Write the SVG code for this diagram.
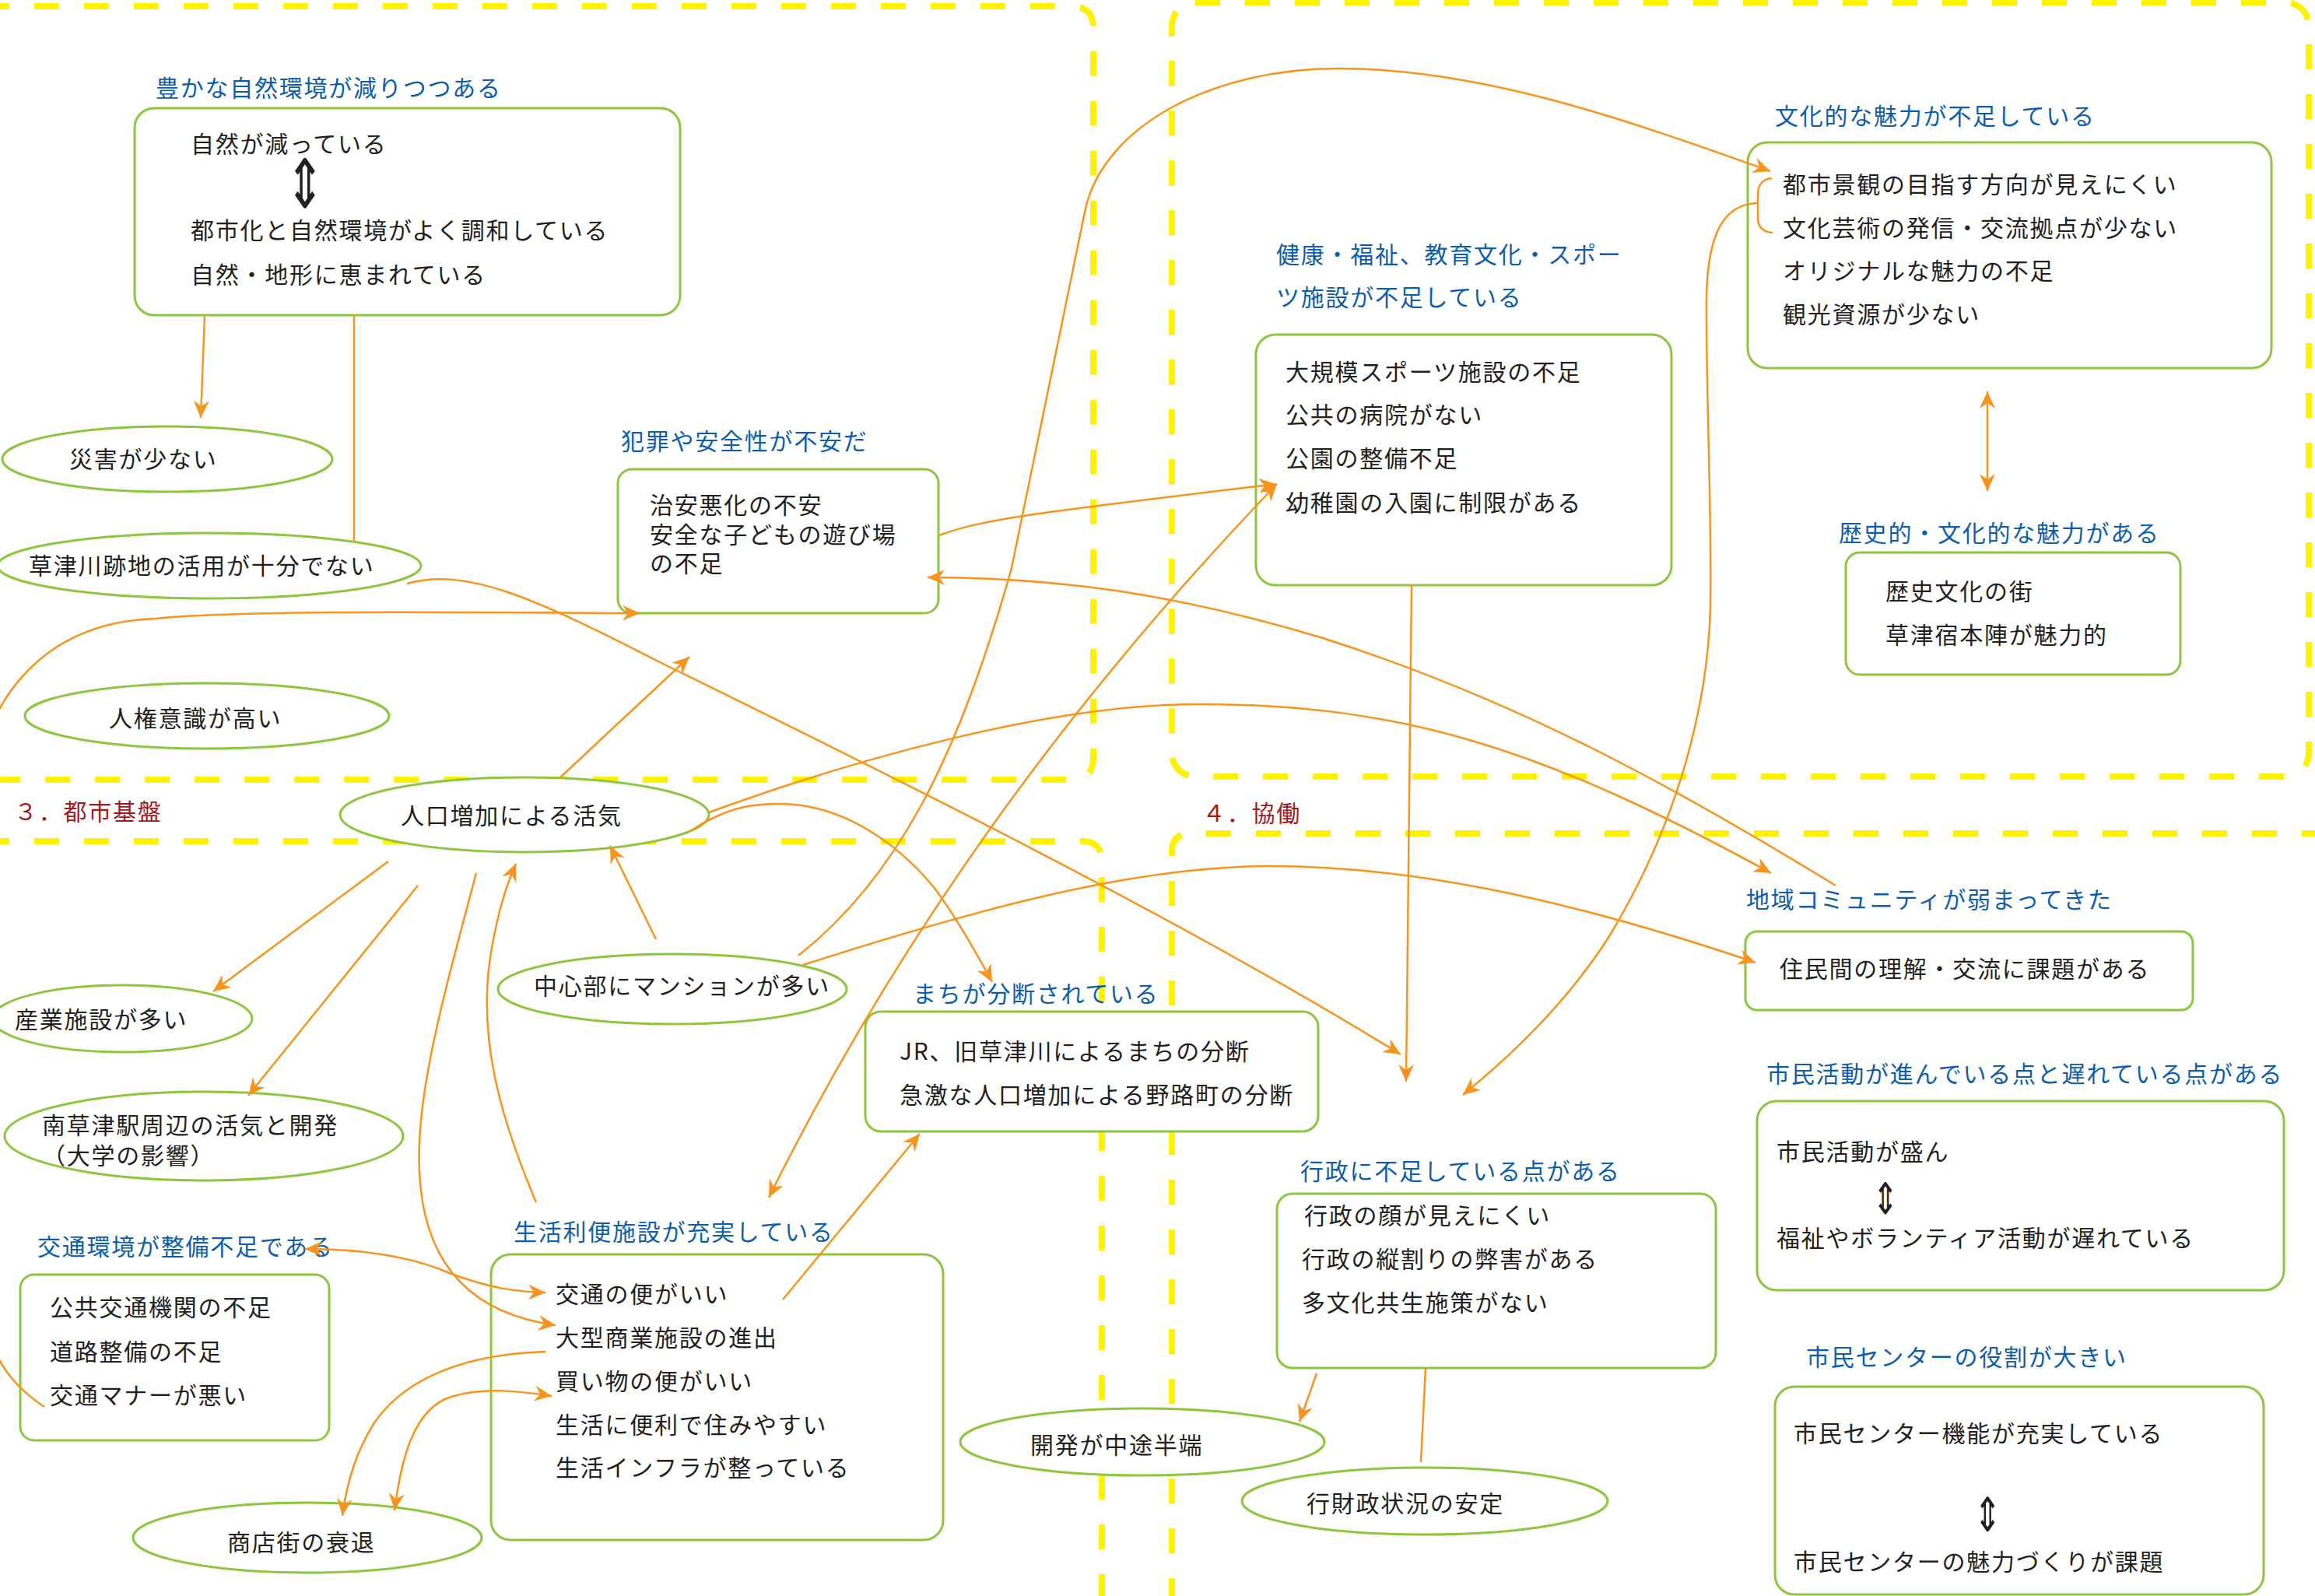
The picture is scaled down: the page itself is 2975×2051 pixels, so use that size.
<svg xmlns="http://www.w3.org/2000/svg" width="2975" height="2051" viewBox="0 0 2975 2051">
<style>
.zone{fill:none;stroke:#FFF100;stroke-width:8;stroke-dasharray:32 32}
.box{fill:#fff;stroke:#8DC63F;stroke-width:3}
.t{font-family:"Noto Sans CJK JP","Noto Sans",sans-serif;font-size:30px;letter-spacing:1.75px;fill:#231F20;dominant-baseline:central}
.h{fill:#0D5DAD}
.sec{fill:#A3181E}
.sym{font-family:"DejaVu Sans",sans-serif;fill:#231F20;text-anchor:middle;dominant-baseline:central}
.c{fill:none;stroke:#F7941D;stroke-width:2.5}
.e{marker-end:url(#ah)}
.b{marker-start:url(#ah);marker-end:url(#ah)}
</style>
<defs>
<marker id="ah" viewBox="-24 -12 26 24" refX="0" refY="0" markerWidth="26" markerHeight="24" markerUnits="userSpaceOnUse" orient="auto-start-reverse">
<path d="M0,0 L-22,-10 L-15,0 L-22,10 Z" fill="#F7941D"/>
</marker>
</defs>
<rect width="2975" height="2051" fill="#fff"/>
<g id="zones">
<path class="zone" d="M-20,8 L1377,8 Q1405,8 1405,36 L1405,974 Q1405,1002 1377,1002 L-20,1002"/>
<rect class="zone" x="1506" y="3" width="1461" height="995" rx="30"/>
<path class="zone" d="M-20,1081 L1390,1081 Q1416,1081 1416,1107 L1416,2070"/>
<path class="zone" d="M2990,1071 L1530,1071 Q1506,1071 1506,1095 L1506,2070"/>
<text class="t sec" x="18" y="1041">３．都市基盤</text>
<text class="t sec" x="1545" y="1043">４．協働</text>
</g>
<g id="n1">
<text class="t h" x="200" y="111">豊かな自然環境が減りつつある</text>
<rect class="box" x="173" y="139" width="701" height="266" rx="25"/>
<text class="t" x="245" y="183">自然が減っている</text>
<text class="sym" transform="translate(392,237) scale(1,1.45)" font-size="60">⇕</text>
<text class="t" x="245" y="294">都市化と自然環境がよく調和している</text>
<text class="t" x="245" y="351">自然・地形に恵まれている</text>
</g>
<g id="n2"><ellipse class="box" cx="215" cy="590" rx="212" ry="42"/><text class="t" x="89" y="588">災害が少ない</text></g>
<g id="n3"><ellipse class="box" cx="269" cy="727" rx="272" ry="42"/><text class="t" x="37" y="725">草津川跡地の活用が十分でない</text></g>
<g id="n4"><ellipse class="box" cx="266" cy="920" rx="234" ry="42"/><text class="t" x="140" y="921">人権意識が高い</text></g>
<g id="n5">
<text class="t h" x="798" y="565">犯罪や安全性が不安だ</text>
<rect class="box" x="794" y="603" width="412" height="185" rx="18"/>
<text class="t" x="835" y="647">治安悪化の不安</text>
<text class="t" x="835" y="685">安全な子どもの遊び場</text>
<text class="t" x="835" y="722">の不足</text>
</g>
<g id="n6">
<text class="t h" x="1640" y="325">健康・福祉、教育文化・スポー</text>
<text class="t h" x="1640" y="380">ツ施設が不足している</text>
<rect class="box" x="1614" y="430" width="534" height="322" rx="25"/>
<text class="t" x="1652" y="476">大規模スポーツ施設の不足</text>
<text class="t" x="1652" y="531">公共の病院がない</text>
<text class="t" x="1652" y="587">公園の整備不足</text>
<text class="t" x="1652" y="644">幼稚園の入園に制限がある</text>
</g>
<g id="n7">
<text class="t h" x="2281" y="147">文化的な魅力が不足している</text>
<rect class="box" x="2246" y="183" width="673" height="290" rx="25"/>
<text class="t" x="2291" y="235">都市景観の目指す方向が見えにくい</text>
<text class="t" x="2291" y="291">文化芸術の発信・交流拠点が少ない</text>
<text class="t" x="2291" y="346">オリジナルな魅力の不足</text>
<text class="t" x="2291" y="402">観光資源が少ない</text>
</g>
<g id="n8">
<text class="t h" x="2363" y="683">歴史的・文化的な魅力がある</text>
<rect class="box" x="2372" y="710" width="430" height="157" rx="18"/>
<text class="t" x="2423" y="758">歴史文化の街</text>
<text class="t" x="2423" y="814">草津宿本陣が魅力的</text>
</g>
<g id="n9"><ellipse class="box" cx="674" cy="1047" rx="237" ry="48"/><text class="t" x="515" y="1046">人口増加による活気</text></g>
<g id="n10"><ellipse class="box" cx="157" cy="1309" rx="167" ry="43"/><text class="t" x="19" y="1308">産業施設が多い</text></g>
<g id="n11"><ellipse class="box" cx="262" cy="1460" rx="256" ry="57"/><text class="t" x="54" y="1444">南草津駅周辺の活気と開発</text><text class="t" x="54" y="1483">（大学の影響）</text></g>
<g id="n12">
<text class="t h" x="48" y="1600">交通環境が整備不足である</text>
<rect class="box" x="26" y="1638" width="397" height="213" rx="18"/>
<text class="t" x="64" y="1678">公共交通機関の不足</text>
<text class="t" x="64" y="1735">道路整備の不足</text>
<text class="t" x="64" y="1791">交通マナーが悪い</text>
</g>
<g id="n13"><ellipse class="box" cx="395" cy="1976" rx="224" ry="45"/><text class="t" x="292" y="1980">商店街の衰退</text></g>
<g id="n14"><ellipse class="box" cx="864" cy="1271" rx="224" ry="45"/><text class="t" x="686" y="1265">中心部にマンションが多い</text></g>
<g id="n15">
<text class="t h" x="660" y="1581">生活利便施設が充実している</text>
<rect class="box" x="631" y="1612" width="581" height="367" rx="25"/>
<text class="t" x="714" y="1661">交通の便がいい</text>
<text class="t" x="714" y="1717">大型商業施設の進出</text>
<text class="t" x="714" y="1773">買い物の便がいい</text>
<text class="t" x="714" y="1829">生活に便利で住みやすい</text>
<text class="t" x="714" y="1884">生活インフラが整っている</text>
</g>
<g id="n16">
<text class="t h" x="1173" y="1275">まちが分断されている</text>
<rect class="box" x="1112" y="1300" width="582" height="154" rx="20"/>
<text class="t" x="1156" y="1349">JR、旧草津川によるまちの分断</text>
<text class="t" x="1156" y="1405">急激な人口増加による野路町の分断</text>
</g>
<g id="n17"><ellipse class="box" cx="1468" cy="1853" rx="234" ry="43"/><text class="t" x="1324" y="1855">開発が中途半端</text></g>
<g id="n18">
<text class="t h" x="1671" y="1503">行政に不足している点がある</text>
<rect class="box" x="1641" y="1534" width="564" height="224" rx="20"/>
<text class="t" x="1676" y="1560">行政の顔が見えにくい</text>
<text class="t" x="1673" y="1616">行政の縦割りの弊害がある</text>
<text class="t" x="1673" y="1672">多文化共生施策がない</text>
</g>
<g id="n19"><ellipse class="box" cx="1831" cy="1929" rx="235" ry="43"/><text class="t" x="1679" y="1930">行財政状況の安定</text></g>
<g id="n20">
<text class="t h" x="2244" y="1154">地域コミュニティが弱まってきた</text>
<rect class="box" x="2243" y="1197" width="575" height="101" rx="15"/>
<text class="t" x="2287" y="1243">住民間の理解・交流に課題がある</text>
</g>
<g id="n21">
<text class="t h" x="2270" y="1378">市民活動が進んでいる点と遅れている点がある</text>
<rect class="box" x="2258" y="1415" width="677" height="243" rx="25"/>
<text class="t" x="2283" y="1478">市民活動が盛ん</text>
<text class="sym" transform="translate(2423,1540) scale(1,1.4)" font-size="40">⇕</text>
<text class="t" x="2283" y="1589">福祉やボランティア活動が遅れている</text>
</g>
<g id="n22">
<text class="t h" x="2321" y="1742">市民センターの役割が大きい</text>
<rect class="box" x="2281" y="1782" width="628" height="267" rx="25"/>
<text class="t" x="2305" y="1840">市民センター機能が充実している</text>
<text class="sym" transform="translate(2554,1946) scale(1,1.45)" font-size="42">⇕</text>
<text class="t" x="2305" y="2005">市民センターの魅力づくりが課題</text>
</g>
<g id="connectors">
<path class="c e" d="M263,405 L258,537"/>
<path class="c" d="M455,405 L455,695"/>
<path class="c e" d="M57,1808 C30,1790 10,1770 -5,1740 L-30,1000 C-20,920 40,800 200,795 C300,785 500,786 822,788"/>
<path class="c e" d="M719,1000 L886,844"/>
<path class="c e" d="M523,750 C600,728 690,770 850,852 C1100,975 1500,1170 1800,1355"/>
<path class="c e" d="M1207,688 C1260,668 1320,660 1640,622"/>
<path class="c e" d="M1026,1228 C1150,1130 1230,980 1300,730 L1395,268 C1420,160 1560,88 1720,88 C1900,88 2080,150 2275,220"/>
<path class="c e" d="M1032,1240 C1250,1170 1450,1115 1625,1113 C1800,1112 2000,1150 2256,1237"/>
<path class="c e" d="M911,1044 C1100,975 1350,905 1540,905 C1800,905 1980,960 2276,1122"/>
<path class="c e" d="M2359,1138 C2150,1010 1950,900 1700,820 C1500,760 1350,742 1192,742"/>
<path class="c e" d="M887,1068 C930,1040 960,1033 1000,1033 C1080,1033 1150,1080 1200,1140 C1230,1180 1255,1225 1275,1262"/>
<path class="c b" d="M1641,622 Q1230,1050 988,1539"/>
<path class="c e" d="M499,1107 L274,1274"/>
<path class="c e" d="M537,1138 L319,1408"/>
<path class="c e" d="M612,1122 C570,1280 530,1420 540,1520 C550,1640 620,1690 714,1703"/>
<path class="c e" d="M689,1545 C640,1430 615,1330 630,1230 C640,1170 650,1140 663,1110"/>
<path class="c e" d="M843,1207 L784,1087"/>
<path class="c b" d="M392,1605 C470,1605 530,1615 580,1637 C630,1655 660,1660 701,1661"/>
<path class="c e" d="M701,1737 C600,1740 520,1770 480,1830 C455,1870 445,1910 440,1948"/>
<path class="c b" d="M507,1941 C515,1880 530,1810 580,1795 C620,1782 670,1788 709,1794"/>
<path class="c e" d="M1006,1670 L1182,1457"/>
<path class="c e" d="M1692,1765 L1670,1827"/>
<path class="c" d="M1832,1758 L1826,1879"/>
<path class="c b" d="M2554,503 L2554,631"/>
<path class="c e" d="M1814,752 L1807,1390"/>
<path class="c" d="M2277,229 C2265,230 2259,238 2259,250 L2259,280 C2259,292 2265,298 2278,299"/>
<path class="c e" d="M2259,261 C2215,262 2195,300 2193,380 C2192,500 2200,650 2198,780 C2195,900 2160,1050 2070,1200 C2020,1280 1950,1350 1880,1407"/>
</g>
</svg>
